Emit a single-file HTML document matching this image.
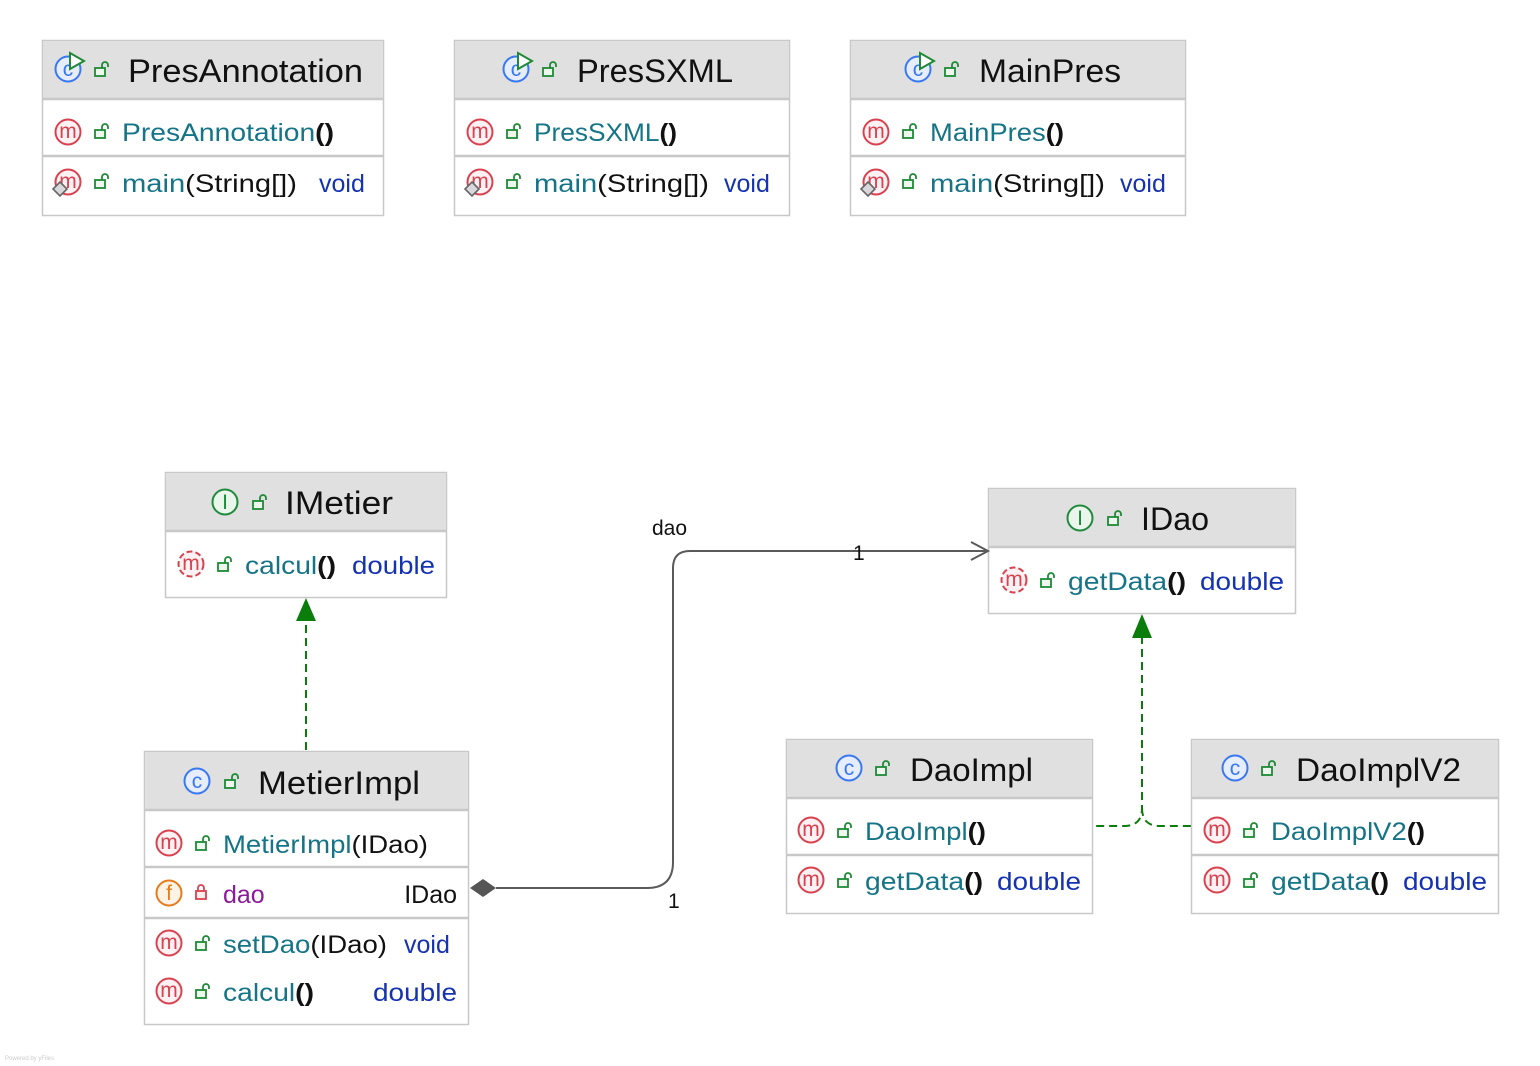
<!DOCTYPE html>
<html><head><meta charset="utf-8"><style>
html,body{margin:0;padding:0;background:#fff;}
svg{display:block;font-family:"Liberation Sans","DejaVu Sans",sans-serif;}
.h{font-size:32px;fill:#111;}
.t{font-size:25px;}
.n{fill:#167487;}
.k{fill:#111;}
.b{font-weight:bold;}
.r{fill:#1532b0;}
.p{fill:#8c1a9a;}
.il{font-size:21px;text-anchor:middle;}
</style></head><body>
<svg width="1540" height="1066" viewBox="0 0 1540 1066" xmlns="http://www.w3.org/2000/svg">
<defs>
<g id="lk"><rect x="-6" y="-1" width="10" height="8" fill="#eef7ee" stroke="#1e8a36" stroke-width="1.8"/><path d="M1,-1 V-4 a3,3 0 0 1 6,0 V-2" fill="none" stroke="#1e8a36" stroke-width="1.8"/></g>
<g id="lkr"><rect x="-5" y="-1" width="10" height="8" fill="#fdeeee" stroke="#d9414f" stroke-width="1.8"/><path d="M-3,-1 V-4 a3,3 0 0 1 6,0 V-1" fill="none" stroke="#d9414f" stroke-width="1.8"/></g>
<circle id="mc" r="12.5" fill="#fdf1f3" stroke="#d9414f" stroke-width="2"/>
<circle id="mca" r="12.5" fill="#fdf1f3" stroke="#d9414f" stroke-width="2" stroke-dasharray="6 3"/>
<circle id="cc" r="12.5" fill="#e5edff" stroke="#3a78f0" stroke-width="2"/>
<circle id="ic" r="12.5" fill="#eaf6ec" stroke="#208a3c" stroke-width="2"/>
<circle id="fc" r="12.5" fill="#fff3e6" stroke="#e57b1f" stroke-width="2"/>
<path id="run" d="M0,-11 L14,-3 L0,5 Z" fill="#fff" stroke="#1e8a36" stroke-width="2"/>
<path id="dia" d="M0,-7 L7,0 L0,7 L-7,0 Z" fill="#d8d8dc" stroke="#666" stroke-width="1.6"/>
</defs>

<g fill="#fff" stroke="#c8c8c8" stroke-width="1.5">
<rect x="42.5" y="40.5" width="341" height="175"/>
<rect x="454.5" y="40.5" width="335" height="175"/>
<rect x="850.5" y="40.5" width="335" height="175"/>
<rect x="165.5" y="472.5" width="281" height="125"/>
<rect x="988.5" y="488.5" width="307" height="125"/>
<rect x="144.5" y="751.5" width="324" height="273"/>
<rect x="786.5" y="739.5" width="306" height="174"/>
<rect x="1191.5" y="739.5" width="307" height="174"/>
</g>
<g fill="#e0e0e0">
<rect x="43" y="41" width="340" height="57"/>
<rect x="455" y="41" width="334" height="57"/>
<rect x="851" y="41" width="334" height="57"/>
<rect x="166" y="473" width="280" height="57"/>
<rect x="989" y="489" width="306" height="57"/>
<rect x="145" y="752" width="323" height="57"/>
<rect x="787" y="740" width="305" height="57"/>
<rect x="1192" y="740" width="306" height="57"/>
</g>
<g stroke="#c8c8c8" stroke-width="2.5">
<line x1="43" y1="99" x2="383" y2="99"/><line x1="43" y1="156" x2="383" y2="156"/>
<line x1="455" y1="99" x2="789" y2="99"/><line x1="455" y1="156" x2="789" y2="156"/>
<line x1="851" y1="99" x2="1185" y2="99"/><line x1="851" y1="156" x2="1185" y2="156"/>
<line x1="166" y1="531" x2="446" y2="531"/>
<line x1="989" y1="547" x2="1295" y2="547"/>
<line x1="145" y1="810" x2="468" y2="810"/><line x1="145" y1="867" x2="468" y2="867"/><line x1="145" y1="918" x2="468" y2="918"/>
<line x1="787" y1="798" x2="1092" y2="798"/><line x1="787" y1="855" x2="1092" y2="855"/>
<line x1="1192" y1="798" x2="1498" y2="798"/><line x1="1192" y1="855" x2="1498" y2="855"/>
</g>

<!-- PresAnnotation -->
<use href="#cc" x="68" y="69"/><text class="il" x="68" y="76" fill="#3a78f0">c</text><use href="#run" x="70" y="64"/>
<use href="#lk" x="101" y="69"/>
<text class="h" x="128" y="82" textLength="235" lengthAdjust="spacingAndGlyphs">PresAnnotation</text>
<use href="#mc" x="68" y="132"/><text class="il" x="68" y="138" fill="#d9414f">m</text><use href="#lk" x="101" y="131"/>
<text class="t" x="122" y="141" textLength="212" lengthAdjust="spacingAndGlyphs"><tspan class="n">PresAnnotation</tspan><tspan class="k b">()</tspan></text>
<use href="#mc" x="68" y="182"/><text class="il" x="68" y="188" fill="#d9414f">m</text><use href="#dia" x="60" y="189"/><use href="#lk" x="101" y="181"/>
<text class="t" x="122" y="192" textLength="175" lengthAdjust="spacingAndGlyphs"><tspan class="n">main</tspan><tspan class="k">(String[])</tspan></text>
<text class="t r" x="319" y="192">void</text>

<!-- PresSXML -->
<use href="#cc" x="516" y="69"/><text class="il" x="516" y="76" fill="#3a78f0">c</text><use href="#run" x="518" y="64"/>
<use href="#lk" x="549" y="69"/>
<text class="h" x="577" y="82" textLength="156" lengthAdjust="spacingAndGlyphs">PresSXML</text>
<use href="#mc" x="480" y="132"/><text class="il" x="480" y="138" fill="#d9414f">m</text><use href="#lk" x="513" y="131"/>
<text class="t" x="534" y="141" textLength="143" lengthAdjust="spacingAndGlyphs"><tspan class="n">PresSXML</tspan><tspan class="k b">()</tspan></text>
<use href="#mc" x="480" y="182"/><text class="il" x="480" y="188" fill="#d9414f">m</text><use href="#dia" x="472" y="189"/><use href="#lk" x="513" y="181"/>
<text class="t" x="534" y="192" textLength="175" lengthAdjust="spacingAndGlyphs"><tspan class="n">main</tspan><tspan class="k">(String[])</tspan></text>
<text class="t r" x="724" y="192">void</text>

<!-- MainPres -->
<use href="#cc" x="918" y="69"/><text class="il" x="918" y="76" fill="#3a78f0">c</text><use href="#run" x="920" y="64"/>
<use href="#lk" x="951" y="69"/>
<text class="h" x="979" y="82" textLength="142" lengthAdjust="spacingAndGlyphs">MainPres</text>
<use href="#mc" x="876" y="132"/><text class="il" x="876" y="138" fill="#d9414f">m</text><use href="#lk" x="909" y="131"/>
<text class="t" x="930" y="141" textLength="134" lengthAdjust="spacingAndGlyphs"><tspan class="n">MainPres</tspan><tspan class="k b">()</tspan></text>
<use href="#mc" x="876" y="182"/><text class="il" x="876" y="188" fill="#d9414f">m</text><use href="#dia" x="868" y="189"/><use href="#lk" x="909" y="181"/>
<text class="t" x="930" y="192" textLength="175" lengthAdjust="spacingAndGlyphs"><tspan class="n">main</tspan><tspan class="k">(String[])</tspan></text>
<text class="t r" x="1120" y="192">void</text>

<!-- IMetier -->
<use href="#ic" x="225" y="502"/><text class="il" x="225" y="509" fill="#208a3c">I</text><use href="#lk" x="259" y="502"/>
<text class="h" x="285" y="514" textLength="108" lengthAdjust="spacingAndGlyphs">IMetier</text>
<use href="#mca" x="191" y="564"/><text class="il" x="191" y="570" fill="#d9414f">m</text><use href="#lk" x="224" y="564"/>
<text class="t" x="245" y="574" textLength="91" lengthAdjust="spacingAndGlyphs"><tspan class="n">calcul</tspan><tspan class="k b">()</tspan></text>
<text class="t r" x="352" y="574" textLength="83" lengthAdjust="spacingAndGlyphs">double</text>

<!-- IDao -->
<use href="#ic" x="1080" y="518"/><text class="il" x="1080" y="525" fill="#208a3c">I</text><use href="#lk" x="1114" y="518"/>
<text class="h" x="1141" y="530" textLength="68" lengthAdjust="spacingAndGlyphs">IDao</text>
<use href="#mca" x="1014" y="580"/><text class="il" x="1014" y="586" fill="#d9414f">m</text><use href="#lk" x="1047" y="580"/>
<text class="t" x="1068" y="590" textLength="118" lengthAdjust="spacingAndGlyphs"><tspan class="n">getData</tspan><tspan class="k b">()</tspan></text>
<text class="t r" x="1200" y="590" textLength="84" lengthAdjust="spacingAndGlyphs">double</text>

<!-- MetierImpl -->
<use href="#cc" x="197" y="781"/><text class="il" x="197" y="788" fill="#3a78f0">c</text><use href="#lk" x="231" y="781"/>
<text class="h" x="258" y="794" textLength="162" lengthAdjust="spacingAndGlyphs">MetierImpl</text>
<use href="#mc" x="169" y="843"/><text class="il" x="169" y="849" fill="#d9414f">m</text><use href="#lk" x="202" y="843"/>
<text class="t" x="223" y="853" textLength="205" lengthAdjust="spacingAndGlyphs"><tspan class="n">MetierImpl</tspan><tspan class="k">(IDao)</tspan></text>
<use href="#fc" x="169" y="893"/><text class="il" x="169" y="900" fill="#e57b1f">f</text><use href="#lkr" x="201" y="892"/>
<text class="t p" x="223" y="903">dao</text>
<text class="t" x="457" y="903" text-anchor="end" fill="#111">IDao</text>
<use href="#mc" x="169" y="943"/><text class="il" x="169" y="949" fill="#d9414f">m</text><use href="#lk" x="202" y="943"/>
<text class="t" x="223" y="953" textLength="164" lengthAdjust="spacingAndGlyphs"><tspan class="n">setDao</tspan><tspan class="k">(IDao)</tspan></text>
<text class="t r" x="404" y="953">void</text>
<use href="#mc" x="169" y="991"/><text class="il" x="169" y="997" fill="#d9414f">m</text><use href="#lk" x="202" y="991"/>
<text class="t" x="223" y="1001" textLength="91" lengthAdjust="spacingAndGlyphs"><tspan class="n">calcul</tspan><tspan class="k b">()</tspan></text>
<text class="t r" x="457" y="1001" text-anchor="end" textLength="84" lengthAdjust="spacingAndGlyphs">double</text>

<!-- DaoImpl -->
<use href="#cc" x="849" y="768"/><text class="il" x="849" y="775" fill="#3a78f0">c</text><use href="#lk" x="882" y="768"/>
<text class="h" x="910" y="781" textLength="123" lengthAdjust="spacingAndGlyphs">DaoImpl</text>
<use href="#mc" x="811" y="830"/><text class="il" x="811" y="836" fill="#d9414f">m</text><use href="#lk" x="844" y="830"/>
<text class="t" x="865" y="840" textLength="121" lengthAdjust="spacingAndGlyphs"><tspan class="n">DaoImpl</tspan><tspan class="k b">()</tspan></text>
<use href="#mc" x="811" y="880"/><text class="il" x="811" y="886" fill="#d9414f">m</text><use href="#lk" x="844" y="880"/>
<text class="t" x="865" y="890" textLength="118" lengthAdjust="spacingAndGlyphs"><tspan class="n">getData</tspan><tspan class="k b">()</tspan></text>
<text class="t r" x="997" y="890" textLength="84" lengthAdjust="spacingAndGlyphs">double</text>

<!-- DaoImplV2 -->
<use href="#cc" x="1235" y="768"/><text class="il" x="1235" y="775" fill="#3a78f0">c</text><use href="#lk" x="1268" y="768"/>
<text class="h" x="1296" y="781" textLength="165" lengthAdjust="spacingAndGlyphs">DaoImplV2</text>
<use href="#mc" x="1217" y="830"/><text class="il" x="1217" y="836" fill="#d9414f">m</text><use href="#lk" x="1250" y="830"/>
<text class="t" x="1271" y="840" textLength="154" lengthAdjust="spacingAndGlyphs"><tspan class="n">DaoImplV2</tspan><tspan class="k b">()</tspan></text>
<use href="#mc" x="1217" y="880"/><text class="il" x="1217" y="886" fill="#d9414f">m</text><use href="#lk" x="1250" y="880"/>
<text class="t" x="1271" y="890" textLength="118" lengthAdjust="spacingAndGlyphs"><tspan class="n">getData</tspan><tspan class="k b">()</tspan></text>
<text class="t r" x="1403" y="890" textLength="84" lengthAdjust="spacingAndGlyphs">double</text>

<!-- edges -->
<g fill="none" stroke="#0a7d0a" stroke-width="2" stroke-dasharray="8 5">
<path d="M306,750 V620"/>
<path d="M1142,636 V808 Q1142,826 1124,826 H1093"/>
<path d="M1142,808 Q1142,826 1160,826 H1191"/>
</g>
<path d="M306,598 L296,621 L316,621 Z" fill="#0a7d0a"/>
<path d="M1142,614 L1132,638 L1152,638 Z" fill="#0a7d0a"/>

<path d="M496,888 H647 Q673,888 673,862 V568 Q673,551 690,551 H987" fill="none" stroke="#5a5a5a" stroke-width="2"/>
<path d="M470,888 L483,879 L496,888 L483,897 Z" fill="#555"/>
<path d="M971,542 L988,551 L971,560" fill="none" stroke="#5a5a5a" stroke-width="2"/>
<g font-size="21" fill="#111">
<text x="652" y="535">dao</text>
<text x="853" y="560">1</text>
<text x="668" y="908">1</text>
</g>
<text x="5" y="1060" font-size="6" fill="#ccc">Powered by yFiles</text>
</svg>
</body></html>
